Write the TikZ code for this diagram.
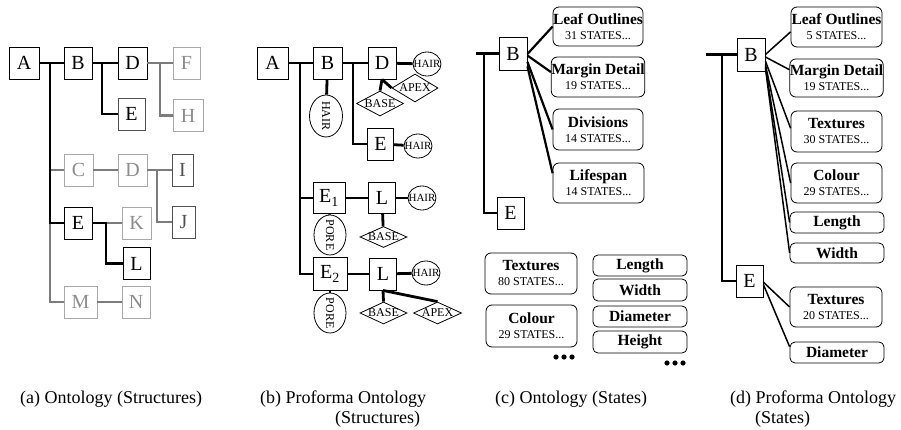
\documentclass[tikz,border=0pt]{standalone}
\usepackage{fontspec}
\setmainfont{Liberation Serif}
\usetikzlibrary{shapes.geometric}
\definecolor{lgray}{HTML}{A8A8A8}
\definecolor{ltext}{HTML}{8C8C8C}
\definecolor{lline}{HTML}{7C7C7C}
\definecolor{mgray}{HTML}{505050}
\begin{document}
\begin{tikzpicture}[x=1pt,y=-1pt,
  box/.style={draw,line width=0.9pt,inner sep=0pt,minimum height=32pt,font=\fontsize{20}{20}\selectfont},
  gbox/.style={box,draw=lgray,text=ltext},
  mbox/.style={box,draw=mgray,text=mgray},
  bl/.style={line width=2.6pt},
  gl/.style={line width=2.6pt,draw=lline},
  bl3/.style={line width=2.8pt},
  hairc/.style={ellipse,draw,line width=0.8pt,inner sep=0pt,minimum width=28pt,minimum height=24pt},
  vell/.style={ellipse,draw,line width=0.8pt,inner sep=0pt,minimum width=32pt,minimum height=40pt},
  diam/.style={diamond,draw,line width=0.8pt,inner sep=0pt,minimum width=47pt,minimum height=22pt},
  smalltxt/.style={inner sep=0pt,font=\fontsize{12}{12}\selectfont},
  hairtxt/.style={inner sep=0pt,font=\fontsize{11}{11}\selectfont},
  sbox/.style={draw,rounded corners=6pt,line width=0.8pt,inner sep=0pt,minimum width=90pt,minimum height=40pt,align=center,font=\fontsize{15.5}{15}\selectfont},
  lbox/.style={draw,rounded corners=5pt,line width=0.8pt,inner sep=0pt,minimum width=94pt,minimum height=21pt,font=\fontsize{15.5}{15}\selectfont\bfseries},
  sl/.style={line width=2.2pt},
  thl/.style={line width=1.5pt},
  captxt/.style={inner sep=0pt,anchor=base west,font=\fontsize{18}{18}\selectfont}
]
\useasboundingbox (0,0) rectangle (901,430);

% ---------------- (a) ----------------
\node[box,minimum width=30pt] (aA) at (24,63) {A};
\node[box,minimum width=28pt] (aB) at (78,63) {B};
\node[box,minimum width=29pt] (aD) at (132.5,63) {D};
\node[gbox,minimum width=27pt] (aF) at (186.5,63) {F};
\node[mbox,text=black,minimum width=27pt] (aE) at (131.5,114) {E};
\node[gbox,minimum width=30pt] (aH) at (188,115.5) {H};
\node[gbox,minimum width=29pt] (aC) at (78.5,170) {C};
\node[gbox,minimum width=29pt] (aD2) at (132.5,170) {D};
\node[mbox,minimum width=21pt] (aI) at (182.5,170) {I};
\node[mbox,minimum width=23pt] (aJ) at (183.5,222) {J};
\node[box,minimum width=28pt] (aE2) at (78,223) {E};
\node[gbox,minimum width=29pt] (aK) at (136.5,223) {K};
\node[box,minimum width=27pt] (aL) at (136.5,263.5) {L};
\node[gbox,minimum width=33pt] (aM) at (80.5,302) {M};
\node[gbox,minimum width=28pt] (aN) at (136,302) {N};
\coordinate (atA) at (50,63);
\coordinate (atB) at (102,63);
\coordinate (atD) at (160,63);
\coordinate (atD2) at (157,170);
\coordinate (atE) at (106,223);
\draw[gl] (aC.west -| atA) -- (aC.west);
\draw[gl] (aE2.west -| atA) |- (aM.west);
\draw[gl] (aM) -- (aN);
\draw[gl] (aD) -- (aF);
\draw[gl] (atD) |- (aH.west);
\draw[gl] (aC) -- (aD2);
\draw[gl] (aD2) -- (aI);
\draw[gl] (atD2) |- (aJ.west);
\draw[gl] (atE) -- (aK.west);
\draw[bl] (aA) -- (aB);
\draw[bl] (atA) |- (aE2.west);
\draw[bl] (aB) -- (aD);
\draw[bl] (atB) |- (aE.west);
\draw[bl] (aE2.east) -- (atE) |- (aL.west);

% ---------------- (b) ----------------
\node[box,minimum width=31pt] (bA) at (272.5,63) {A};
\node[box,minimum width=29pt] (bB) at (327.5,63) {B};
\node[box,minimum width=28pt] (bD) at (382,63) {D};
\node[hairc] (bH1) at (427,64) {};
\node[hairtxt] (bH1t) at (bH1) {HAIR};
\node[diam,minimum height=25pt] (bBa1) at (380,103.5) {};
\node[smalltxt] (bBa1t) at (bBa1) {BASE};
\node[diam,minimum width=46pt,minimum height=28pt] (bAp1) at (415,88) {};
\node[smalltxt] (bAp1t) at (bAp1) {APEX};
\node[vell,minimum width=33pt,minimum height=42pt] (bHB) at (326,116) {};
\node[smalltxt,rotate=-90] (bHBt) at (bHB) {HAIR};
\node[box,minimum width=26pt] (bE) at (380.5,144) {E};
\node[hairc] (bH2) at (418,146) {};
\node[hairtxt] (bH2t) at (bH2) {HAIR};
\node[box,minimum width=32pt,minimum height=31pt] (bE1) at (329,198) {E\textsubscript{1}};
\node[box,minimum width=27pt,minimum height=31pt] (bL1) at (382,198) {L};
\node[hairc] (bH3) at (422,198) {};
\node[hairtxt] (bH3t) at (bH3) {HAIR};
\node[diam,minimum height=21pt] (bBa2) at (383.5,237) {};
\node[smalltxt] (bBa2t) at (bBa2) {BASE};
\node[vell] (bP1) at (330,235) {};
\node[smalltxt,rotate=-90] (bP1t) at (bP1) {PORE};
\node[box,minimum width=34pt,minimum height=33pt] (bE2) at (330,274) {E\textsubscript{2}};
\node[box,minimum width=27pt] (bL2) at (383,274) {L};
\node[hairc] (bH4) at (426,273) {};
\node[hairtxt] (bH4t) at (bH4) {HAIR};
\node[diam] (bBa3) at (383.5,313) {};
\node[smalltxt] (bBa3t) at (bBa3) {BASE};
\node[diam,minimum width=48pt] (bAp2) at (437.5,313) {};
\node[smalltxt] (bAp2t) at (bAp2) {APEX};
\node[vell] (bP2) at (330,313) {};
\node[smalltxt,rotate=-90] (bP2t) at (bP2) {PORE};
\coordinate (btA) at (300,63);
\coordinate (btB) at (353,63);
\draw[bl3] (bA) -- (bB);
\draw[bl3] (btA) |- (bE2.west);
\draw[bl3] (bE1.west -| btA) -- (bE1.west);
\draw[bl3] (bB) -- (bD);
\draw[bl3] (btB) |- (bE.west);
\draw[bl3] (bD) -- (bH1);
\draw[bl3] (bB) -- (bHB);
\draw[bl3] (bD.south) -- (bBa1.north);
\draw[bl3] (bD.south) -- (bAp1.west);
\draw[bl3] (bE) -- (bH2);
\draw[bl3] (bE1) -- (bL1);
\draw[bl3] (bL1) -- (bH3);
\draw[bl3] (bL1) -- (bBa2);
\draw[bl3] (bE1) -- (bP1);
\draw[bl3] (bE2) -- (bL2);
\draw[bl3] (bL2) -- (bH4);
\draw[bl3] (bL2.south) -- (bBa3.north);
\draw[bl3] (bL2.south) -- (bAp2.north);
\draw[bl3] (bE2) -- (bP2);

% ---------------- (c) ----------------
\node[box,minimum width=28pt,minimum height=33pt] (cB) at (513,53.5) {B};
\node[box,minimum width=27pt] (cE) at (510.5,213) {E};
\coordinate (ctL) at (476,53.5);
\coordinate (ctV) at (484,53.5);
\draw[sl] (ctL) -- (cB.west);
\draw[sl] (ctV) |- (cE.west);
\node[sbox,minimum height=39pt] (cLeaf) at (598,26.5) {\textbf{Leaf Outlines}\\\fontsize{12}{12}\selectfont 31 STATES...};
\node[sbox] (cMar) at (598,77) {\textbf{Margin Detail}\\\fontsize{12}{12}\selectfont 19 STATES...};
\node[sbox,minimum height=41pt] (cDiv) at (598,129.5) {\textbf{Divisions}\\\fontsize{12}{12}\selectfont 14 STATES...};
\node[sbox,minimum width=91pt] (cLif) at (598.5,183) {\textbf{Lifespan}\\\fontsize{12}{12}\selectfont 14 STATES...};
\draw[sl] (cB.-2) -- (cLeaf.west);
\draw[sl] (cB.-8) -- (cMar.174);
\draw[sl] (cB.-30) -- (cDiv.west);
\draw[sl] (cB.-42) -- (cLif.168);
\node[sbox,minimum width=92pt,minimum height=41pt] (cTex) at (531,273.5) {\textbf{Textures}\\\fontsize{12}{12}\selectfont 80 STATES...};
\node[sbox,minimum width=91pt,minimum height=42pt] (cCol) at (531.5,326) {\textbf{Colour}\\\fontsize{12}{12}\selectfont 29 STATES...};
\node[lbox] (cLen) at (640,265.5) {Length};
\node[lbox,minimum height=22pt] (cWid) at (640,290) {Width};
\node[lbox] (cDia) at (640,316.5) {Diameter};
\node[lbox,minimum height=22pt] (cHei) at (640,342) {Height};
\foreach \dx in {0,8,16} {\fill (556+\dx,357) circle (2.6pt); \fill (667+\dx,363) circle (2.6pt);}

% ---------------- (d) ----------------
\node[box,minimum width=28pt,minimum height=33pt] (dB) at (751,54.5) {B};
\node[box,minimum width=27pt] (dE) at (749.5,281) {E};
\coordinate (dtL) at (706,54.5);
\coordinate (dtV) at (722,54.5);
\draw[sl] (dtL) -- (dB.west);
\draw[sl] (dtV) |- (dE.west);
\node[sbox,minimum width=91pt] (dLeaf) at (836.5,27) {\textbf{Leaf Outlines}\\\fontsize{12}{12}\selectfont 5 STATES...};
\node[sbox,minimum width=91pt,minimum height=38pt] (dMar) at (836.5,78) {\textbf{Margin Detail}\\\fontsize{12}{12}\selectfont 19 STATES...};
\node[sbox,minimum width=91pt,minimum height=41pt] (dTex) at (836.5,131.5) {\textbf{Textures}\\\fontsize{12}{12}\selectfont 30 STATES...};
\node[sbox,minimum width=91pt] (dCol) at (836.5,183) {\textbf{Colour}\\\fontsize{12}{12}\selectfont 29 STATES...};
\node[lbox] (dLen) at (837,222.5) {Length};
\node[lbox,minimum height=20pt] (dWid) at (837,253) {Width};
\node[sbox,minimum width=92pt] (dTex2) at (836,307) {\textbf{Textures}\\\fontsize{12}{12}\selectfont 20 STATES...};
\node[lbox] (dDia) at (837,352.5) {Diameter};
\draw[thl] (dB.0) -- (dLeaf.186);
\draw[thl] (dB.-10) -- (dMar.170);
\draw[thl] (dB.-25) -- (dTex.176);
\draw[thl] (dB.-35) -- (dCol.west);
\draw[thl] (dB.-40) -- (dLen.west);
\draw[thl] (dB.-44) -- (dWid.west);
\draw[thl] (dE.-5) -- (dTex2.west);
\draw[thl] (dE.-15) -- (dDia.173);

% ---------------- captions ----------------
\node[captxt] (capa) at (20,403) {(a) Ontology (Structures)};
\node[captxt] (capb1) at (260,403) {(b) Proforma Ontology};
\node[captxt] (capb2) at (335,423) {(Structures)};
\node[captxt] (capc) at (495,403) {(c) Ontology (States)};
\node[captxt] (capd1) at (730,403) {(d) Proforma Ontology};
\node[captxt] (capd2) at (755,423) {(States)};
\end{tikzpicture}
\end{document}
